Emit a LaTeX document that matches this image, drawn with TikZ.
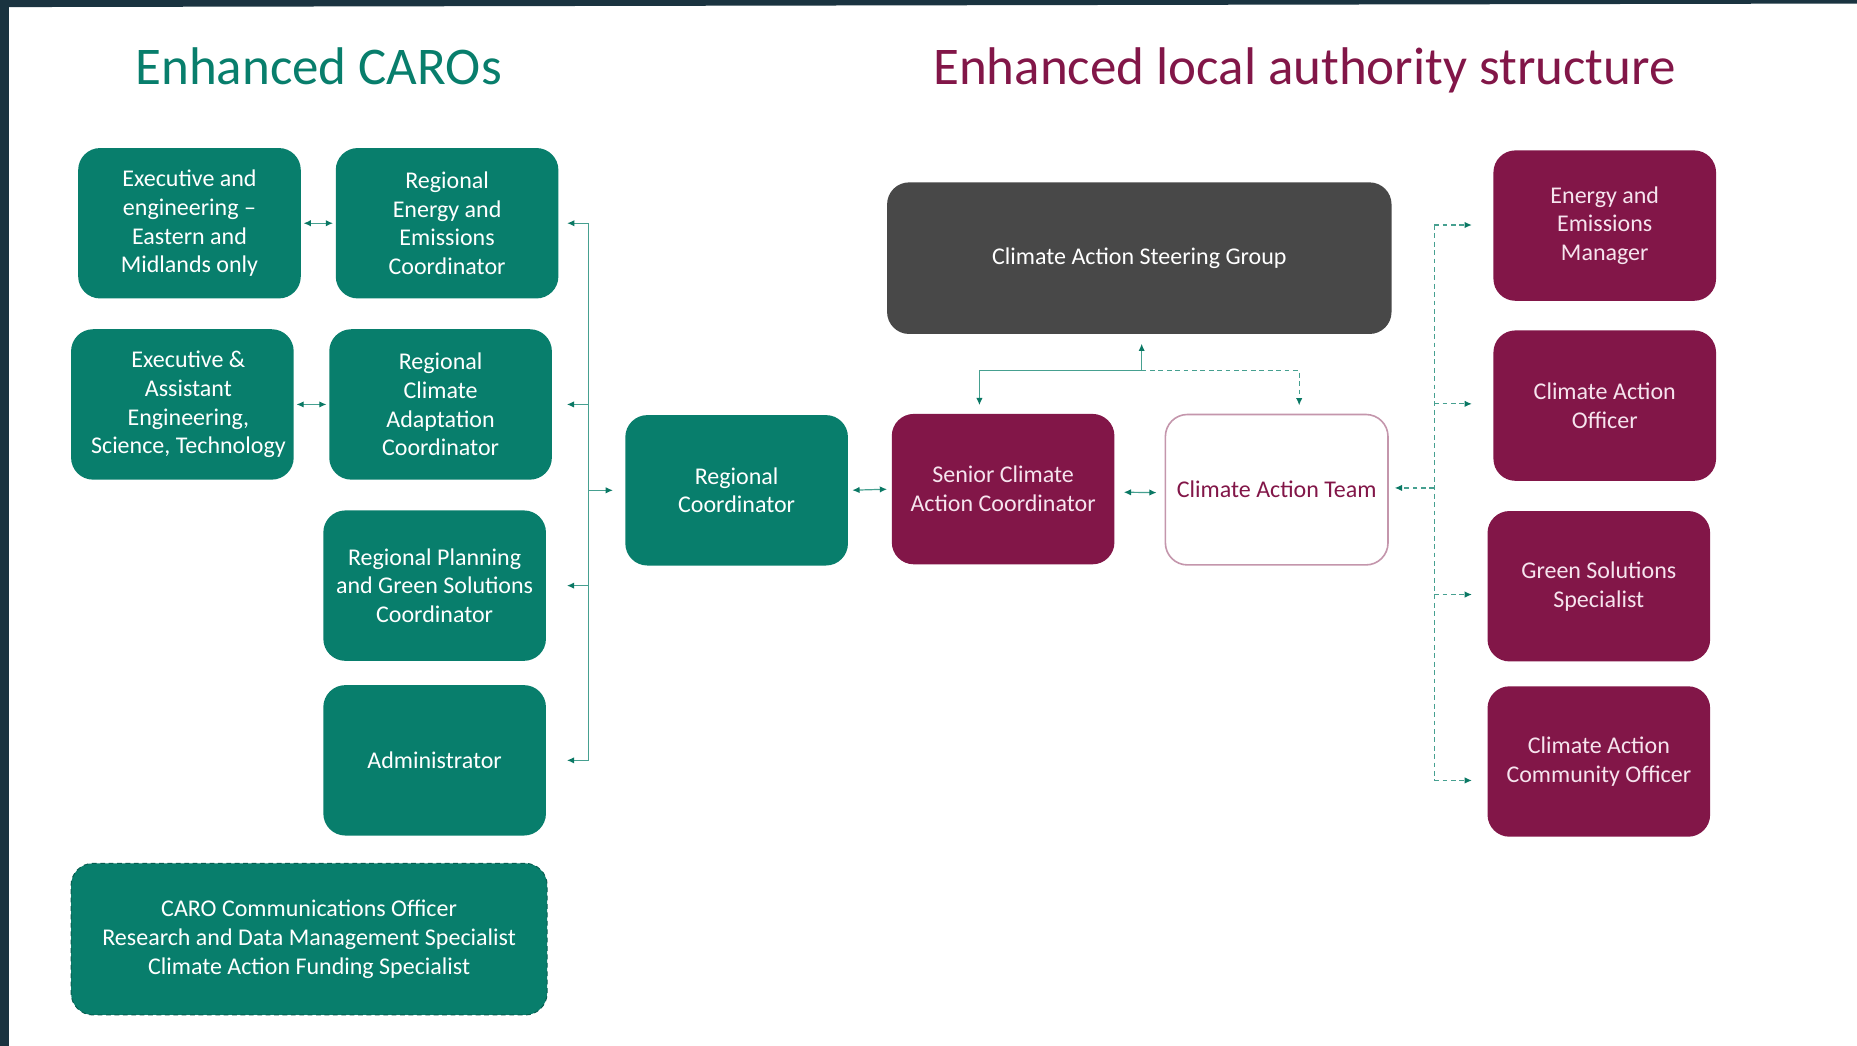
\documentclass[tikz,border=0pt]{standalone}
\usepackage{fontspec}
\setmainfont{Carlito}
\usetikzlibrary{arrows.meta}
\definecolor{cgreen}{RGB}{8,126,108}
\definecolor{cmaroon}{RGB}{130,22,72}
\definecolor{cgray}{RGB}{72,72,72}
\definecolor{cframe}{RGB}{26,51,64}
\definecolor{cline}{RGB}{70,160,144}
\definecolor{ctip}{RGB}{10,120,100}
\definecolor{cpink}{RGB}{246,228,238}
\definecolor{cteam}{RGB}{196,150,172}
\begin{document}
\begin{tikzpicture}[x=0.5921pt,y=-0.5921pt,
  box/.style={rounded corners=11pt,minimum width=111.3pt,minimum height=75.2pt,align=center,inner sep=2pt,
    font=\fontsize{12}{14.4}\selectfont},
  gbox/.style={box,fill=cgreen,text=white},
  mbox/.style={box,fill=cmaroon,text=cpink},
  conn/.style={draw=cline,line width=0.6pt},
  arr/.style={conn,-{Latex[length=3.6pt,width=3.2pt,color=ctip]}},
  dbl/.style={conn,{Latex[length=3.6pt,width=3.2pt,color=ctip]}-{Latex[length=3.6pt,width=3.2pt,color=ctip]}},
  dsh/.style={dash pattern=on 2.4pt off 1.8pt},
  title/.style={anchor=base,font=\fontsize{26.5}{30}\selectfont}]
\fill[white] (0,0) rectangle (1568,883);
\useasboundingbox (0,0) rectangle (1568,883);
\fill[cframe] (0,0) -- (1568,0) -- (1568,3) -- (0,6) -- cycle;
\fill[cframe] (0,0) rectangle (7.5,883);

\node[title,text=cgreen] (t1) at (269,71) {Enhanced CAROs};
\node[title,text=cmaroon] (t2) at (1101.5,71) {Enhanced local authority structure};

% left column
\node[gbox] (b1) at (160,188.5) {Executive and\\engineering --\\Eastern and\\Midlands only};
\node[gbox] (b2) at (377.5,188.5) {Regional\\Energy and\\Emissions\\Coordinator};
\node[gbox] (b3) at (154,341.5) {\hspace*{6pt}Executive \&\\\hspace*{6pt}Assistant\\\hspace*{6pt}Engineering,\\\hspace*{6pt}Science, Technology};
\node[gbox] (b4) at (372,341.5) {Regional\\Climate\\Adaptation\\Coordinator};
\node[gbox] (b5) at (367,494.5) {Regional Planning\\and Green Solutions\\Coordinator};
\node[gbox] (b6) at (367,642) {Administrator};
\node[gbox,minimum width=238pt,minimum height=75.8pt,draw=cgreen!75!black,dsh,line width=0.5pt] (b7) at (261,793)
  {CARO Communications Officer\\Research and Data Management Specialist\\Climate Action Funding Specialist};

% centre
\node[gbox] (rc) at (622,414) {Regional\\Coordinator};
\node[mbox] (scac) at (847,413) {Senior Climate\\Action Coordinator};
\node[box,fill=white,draw=cteam,line width=0.8pt,text=cmaroon] (cat) at (1078,413.5) {Climate Action Team};
\node[box,fill=cgray,text=white,minimum width=252.2pt,minimum height=75.8pt] (sg) at (962,218) {Climate Action Steering Group};

% right column
\node[mbox] (eem) at (1355,190.5) {Energy and\\Emissions\\Manager};
\node[mbox] (cao) at (1355,342.5) {Climate Action\\Officer};
\node[mbox] (gss) at (1350,495) {Green Solutions\\Specialist};
\node[mbox] (caco) at (1350,643) {Climate Action\\Community Officer};

% left bus
\coordinate (busx) at (497,0);
\coordinate (l1) at (b2.east -| busx);
\coordinate (l2) at (b4.east -| busx);
\coordinate (l3) at (b5.east -| busx);
\coordinate (l4) at (b6.east -| busx);
\coordinate (lr) at (rc.west -| busx);
\draw[conn] (l1) -- (l4);
\draw[arr,shorten >=4.2pt] (l1) -- (b2.east);
\draw[arr,shorten >=7.3pt] (l2) -- (b4.east);
\draw[arr,shorten >=10.3pt] (l3) -- (b5.east);
\draw[arr,shorten >=10.3pt] (l4) -- (b6.east);
\draw[arr,shorten >=6pt] (lr) -- (rc.west);

\draw[dbl,shorten >=1.2pt,shorten <=1.2pt] (b1.east) -- (b2.west);
\draw[dbl,shorten >=1.2pt,shorten <=1.2pt] (b3.east) -- (b4.west);
\draw[dbl,shorten >=2.2pt,shorten <=2pt] (rc.east) -- (scac.west);
\draw[dbl,shorten >=4pt,shorten <=4.5pt] ([yshift=-1.5pt]scac.east) -- ([yshift=-1.5pt]cat.west);

% steering group links
\coordinate (j) at (964,313);
\coordinate (jl) at (827,313);
\coordinate (jr) at (1097,313);
\draw[arr,shorten >=4.7pt] (j) -- (j |- sg.south);
\draw[arr,shorten >=4.2pt] (j) -- (jl) -- (jl |- scac.north);
\draw[arr,dsh,shorten >=4.2pt] (j) -- (jr) -- (jr |- cat.north);

% right dashed bus
\coordinate (r1) at (1211,190);
\coordinate (r2) at (1211,341);
\coordinate (r3) at (1211,502);
\coordinate (r4) at (1211,659);
\coordinate (rc2) at (1211,412);
\draw[conn,dsh] (r1) -- (r4);
\draw[arr,dsh,shorten >=10.6pt] (r1) -- (r1 -| eem.west);
\draw[arr,dsh,shorten >=10.6pt] (r2) -- (r2 -| cao.west);
\draw[arr,dsh,shorten >=7.6pt] (r3) -- (r3 -| gss.west);
\draw[arr,dsh,shorten >=7.6pt] (r4) -- (r4 -| caco.west);
\draw[arr,dsh,shorten >=3pt] (rc2) -- (rc2 -| cat.east);
\end{tikzpicture}
\end{document}
